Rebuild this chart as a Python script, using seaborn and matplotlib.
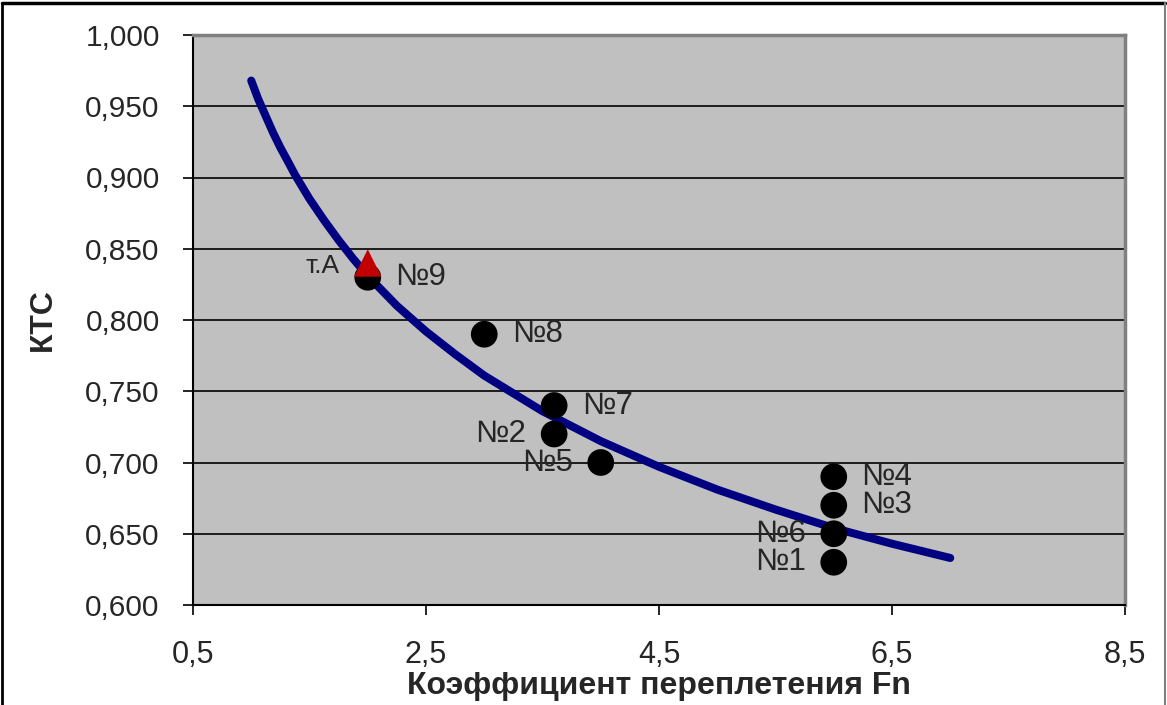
import numpy as np
import pandas as pd
import matplotlib
matplotlib.use("Agg")
import matplotlib.pyplot as plt
from matplotlib.lines import Line2D
import seaborn as sns

# experimental points
names = ["№1", "№2", "№3", "№4", "№5", "№6", "№7", "№8", "№9"]
fn = [6.0, 3.6, 6.0, 6.0, 4.0, 6.0, 3.6, 3.0, 2.0]
kts = [0.63, 0.72, 0.67, 0.69, 0.70, 0.65, 0.74, 0.79, 0.83]
sides = ["left", "left", "right", "right", "left", "left", "right", "right", "right"]

# point A
a_fn = [2.0]
a_kts = [0.84]

# trend curve
curve_x = [1.0, 1.06, 1.125, 1.19, 1.25, 1.31, 1.375, 1.5, 1.625, 1.75, 1.875, 2.0, 2.25,
           2.5, 2.75, 3.0, 3.5, 4.0, 4.5, 5.0, 5.5, 6.0, 6.5, 7.0]
curve_y = [0.968, 0.955, 0.943, 0.931, 0.921, 0.912, 0.902, 0.885, 0.870, 0.856, 0.843,
           0.831, 0.810, 0.792, 0.776, 0.761, 0.736, 0.715, 0.697, 0.681, 0.667, 0.654,
           0.643, 0.633]

x_ticks = [0.5, 2.5, 4.5, 6.5, 8.5]
y_ticks = [0.600, 0.650, 0.700, 0.750, 0.800, 0.850, 0.900, 0.950, 1.000]

sns.set_style("ticks")
plt.rcParams["font.family"] = ["Liberation Sans", "DejaVu Sans"]

fig = plt.figure(figsize=(11.67, 7.05), dpi=100)
ax = fig.add_axes([193 / 1167, 1 - 605 / 705, (1125 - 193) / 1167, (605 - 35) / 705])
ax.set_facecolor("#C0C0C0")

pts = pd.DataFrame({"fn": fn, "kts": kts, "name": names})
curve = pd.DataFrame({"x": curve_x, "y": curve_y})

sns.lineplot(data=curve, x="x", y="y", sort=False, color="#000080", linewidth=5.8,
             solid_capstyle="round", solid_joinstyle="round", ax=ax, zorder=3)
sns.scatterplot(data=pts, x="fn", y="kts", color="black", s=370, marker="o",
                edgecolor="none", ax=ax, zorder=4)
ax.scatter(a_fn, a_kts, s=390, marker="^", color="#C00000", edgecolor="none", zorder=5)

for n, x, y, side in zip(names, fn, kts, sides):
    off = 20 if side == "right" else -20
    ha = "left" if side == "right" else "right"
    ax.annotate(n, (x, y), xytext=(off, 0), textcoords="offset points",
                ha=ha, va="center", fontsize=22.5, zorder=6)
ax.annotate("т.A", (a_fn[0], a_kts[0]), xytext=(-20, -2), textcoords="offset points",
            ha="right", va="center", fontsize=19, zorder=6)

ax.set_xlim(0.5, 8.5)
ax.set_ylim(0.6, 1.0)
ax.set_xticks(x_ticks)
ax.set_yticks(y_ticks)
ax.set_xticklabels([f"{v:.1f}".replace(".", ",") for v in x_ticks])
ax.set_yticklabels([f"{v:.3f}".replace(".", ",") for v in y_ticks])
ax.yaxis.grid(True, color="black", linewidth=1.2, zorder=1)
ax.set_axisbelow(True)

ax.tick_params(axis="y", labelsize=21.5, length=7, width=1.2, direction="out", pad=17, color="black")
ax.tick_params(axis="x", labelsize=22, length=7, width=1.2, direction="out", pad=18, color="black")

ax.set_xlabel("Коэффициент переплетения Fn", fontsize=23, fontweight="bold", labelpad=1)
ax.set_ylabel("КТС", fontsize=23, fontweight="bold", labelpad=20)

for s in ["left", "bottom"]:
    ax.spines[s].set_color("black")
    ax.spines[s].set_linewidth(1.5)
for s in ["top", "right"]:
    ax.spines[s].set_visible(True)
    ax.spines[s].set_color("#808080")
    ax.spines[s].set_linewidth(2.5)

# outer chart border
fig.add_artist(Line2D([0.002, 0.998], [0.996, 0.996], color="black", linewidth=2.5))
fig.add_artist(Line2D([0.002, 0.002], [0.0, 0.996], color="black", linewidth=2))
fig.add_artist(Line2D([0.998, 0.998], [0.0, 0.996], color="#808080", linewidth=1.5))

fig.savefig("out.png", dpi=100)
